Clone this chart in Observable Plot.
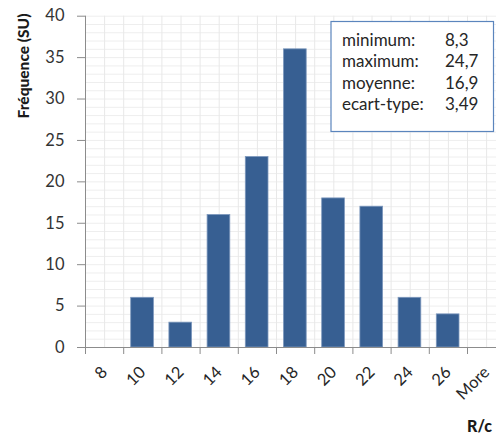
<!DOCTYPE html>
<html><head><meta charset="utf-8">
<script src="https://cdn.jsdelivr.net/npm/d3@7"></script>
<script src="https://cdn.jsdelivr.net/npm/@observablehq/plot@0.6"></script>
<style>
html,body{margin:0;padding:0;overflow:hidden;background:#fff;width:496px;height:436px}
#wrap{position:relative;width:496px;height:436px;overflow:hidden;font-family:Lato,"Open Sans",sans-serif}
#wrap svg{position:absolute;left:0;top:0}
</style></head><body><div id="wrap"></div>
<script>
const categories = ["8","10","12","14","16","18","20","22","24","26","More"];
const frequencies = [0,6,3,16,23,36,18,17,6,4,0];
const yTicks = [0,5,10,15,20,25,30,35,40];
const statLabels = ["minimum:","maximum:","moyenne:","ecart-type:"];
const statValues = ["8,3","24,7","16,9","3,49"];
const yTitle = "Fréquence (SU)";
const xTitle = "R/c";

const bars = categories.map((c, i) => ({cat: c, idx: i, value: frequencies[i]}));
const n = categories.length;

const plot = Plot.plot({
  width: 496, height: 436,
  marginLeft: 85, marginTop: 15.7, marginBottom: 89, marginRight: 0,
  style: {fontFamily: "Lato, 'Open Sans', sans-serif", fontSize: "16px", background: "transparent", overflow: "visible"},
  x: {domain: [0, n], range: [85, 85 + n * 38.2]},
  y: {domain: [0, 40]},
  marks: [
    Plot.gridY(d3.range(0, 41, 1), {stroke: "#eeeeee", strokeOpacity: 1}),
    Plot.gridX(d3.range(0, n + 0.5, 0.5), {stroke: "#e8e8e8", strokeOpacity: 1}),
    Plot.rectY(bars.filter(d => d.value > 0), {
      x1: "idx", x2: d => d.idx + 1, y: "value",
      insetLeft: 7.5, insetRight: 8, fill: "#375F92", stroke: "#7d98bd", strokeWidth: 0.8
    }),
    Plot.ruleX([0], {stroke: "#8c8c8c"}),
    Plot.ruleY([0], {stroke: "#8c8c8c"}),
    Plot.axisY(yTicks, {tickSize: 8, tickFormat: () => "", stroke: "#8c8c8c", label: null}),
    Plot.axisY(yTicks, {tickSize: 0, tickPadding: 21, color: "#333333", fontSize: 16.5, label: null}),
    Plot.axisX(d3.range(0, n), {tickSize: 7, tickFormat: () => "", stroke: "#8c8c8c", label: null}),
    Plot.axisX(d3.range(0, n).map(i => i + 0.5), {
      tickSize: 0, tickPadding: 22, tickRotate: -45, color: "#262626", fontSize: 16.5,
      tickFormat: v => categories[Math.floor(v)], label: null
    })
  ]
});

const wrap = document.getElementById("wrap");
wrap.appendChild(plot);

const ns = "http://www.w3.org/2000/svg";
const ov = document.createElementNS(ns, "svg");
ov.setAttribute("width", 496); ov.setAttribute("height", 436);
ov.setAttribute("font-family", "Lato, 'Open Sans', sans-serif");
let html = `<rect x="331" y="21.5" width="162.5" height="110" fill="#fff" stroke="#5b85bd" stroke-width="1.2"/>`;
statLabels.forEach((l, i) => {
  const y = 45.5 + i * 21.5;
  html += `<text x="342" y="${y}" font-size="17" fill="#262626">${l}</text>`;
  html += `<text x="445" y="${y}" font-size="17" fill="#262626">${statValues[i]}</text>`;
});
html += `<text transform="translate(29,66) rotate(-90)" text-anchor="middle" font-size="15.5" font-weight="900" fill="#1a1a1a">${yTitle}</text>`;
html += `<text x="467" y="432" font-size="16" font-weight="900" fill="#1a1a1a">${xTitle}</text>`;
ov.innerHTML = html;
wrap.appendChild(ov);
</script>
</body></html>
